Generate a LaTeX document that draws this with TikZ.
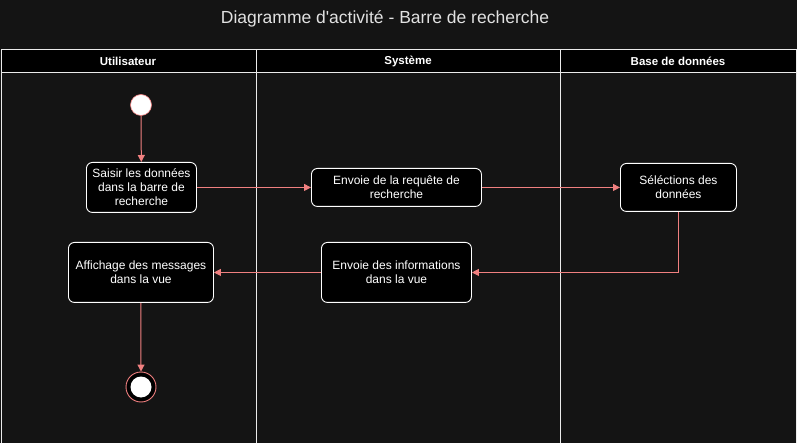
\documentclass[tikz,border=0pt]{standalone}
\usepackage{fontspec}
\setmainfont{Liberation Sans}[Ligatures=TeXOff]
\usetikzlibrary{arrows.meta}
\definecolor{bg}{RGB}{20,20,20}
\definecolor{lane}{RGB}{235,235,235}
\definecolor{flow}{RGB}{240,128,128}
\definecolor{titlec}{RGB}{225,225,225}
\tikzset{
  act/.style={draw=white, fill=black, rounded corners=6pt, line width=0.9pt, text=white,
    align=center, font=\fontsize{12}{14}\selectfont, inner sep=0pt, anchor=north west},
  hdr/.style={text=white, font=\bfseries\fontsize{11.5}{14}\selectfont},
  flowline/.style={draw=flow, line width=1pt, -{Triangle[length=7pt,width=7pt]}},
}
\begin{document}
\begin{tikzpicture}[x=1pt,y=-1pt]
\useasboundingbox (0,0) rectangle (797,443);
\fill[bg] (0,0) rectangle (797,443);
\node[text=titlec, font=\fontsize{17.5}{20}\selectfont] (title) at (385,19) {Diagramme d'activité - Barre de recherche};
% lanes
\fill[black] (1,50) rectangle (796,73);
\draw[lane, line width=1pt] (1,443) -- (1,50) -- (796,50) -- (796,443);
\draw[lane, line width=1pt] (1,73) -- (796,73);
\draw[lane, line width=1pt] (256,50) -- (256,443);
\draw[lane, line width=1pt] (560,50) -- (560,443);
\node[hdr] (h1) at (128,61.5) {Utilisateur};
\node[hdr] (h2) at (408,61.5) {Système};
\node[hdr] (h3) at (678,61.5) {Base de données};
% nodes
\node[circle, fill=white, draw=flow, line width=0.6pt, minimum size=21pt, inner sep=0pt] (start) at (141,105) {};
\node[act, minimum width=110pt, minimum height=50pt] (a1) at (86,162) {Saisir les données\\dans la barre de\\recherche};
\node[act, minimum width=170pt, minimum height=38pt] (a2) at (311,168) {Envoie de la requête de\\recherche};
\node[act, minimum width=116pt, minimum height=48pt] (a3) at (620,163) {Séléctions des\\données};
\node[act, minimum width=150pt, minimum height=60pt] (a4) at (321,242) {Envoie des informations\\dans la vue};
\node[act, minimum width=145pt, minimum height=60pt] (a5) at (68,242) {Affichage des messages\\dans la vue};
\node[circle, draw=flow, fill=black, line width=0.9pt, minimum size=30pt, inner sep=0pt] (end) at (141,387) {};
\node[circle, fill=white, minimum size=21pt, inner sep=0pt] (endin) at (end.center) {};
% flows
\draw[flowline] (start) -- (a1);
\draw[flowline] (a1) -- (a2);
\draw[flowline] (a2) -- (a3);
\draw[flowline] (a3.south) |- (a4.east);
\draw[flowline] (a4) -- (a5);
\draw[flowline] (a5) -- (end);
\end{tikzpicture}
\end{document}
